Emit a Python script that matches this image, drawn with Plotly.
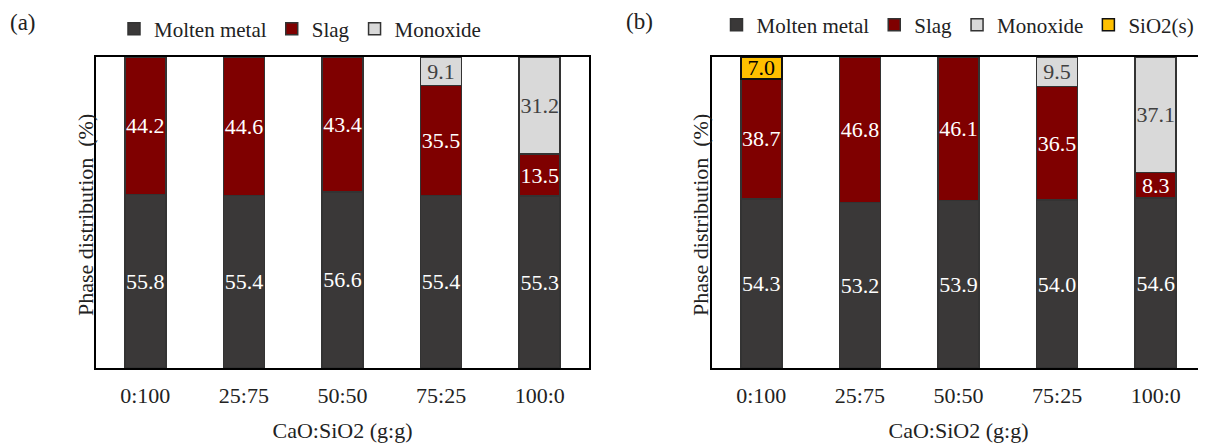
import plotly.graph_objects as go

categories = ["0:100", "25:75", "50:50", "75:25", "100:0"]

# Panel (a)
a_molten = [55.8, 55.4, 56.6, 55.4, 55.3]
a_slag = [44.2, 44.6, 43.4, 35.5, 13.5]
a_monoxide = [None, None, None, 9.1, 31.2]

# Panel (b)
b_molten = [54.3, 53.2, 53.9, 54.0, 54.6]
b_slag = [38.7, 46.8, 46.1, 36.5, 8.3]
b_monoxide = [None, None, None, 9.5, 37.1]
b_sio2 = [7.0, None, None, None, None]

series_names = ["Molten metal", "Slag", "Monoxide", "SiO2(s)"]
colors = ["#3a3838", "#7f0000", "#d9d9d9", "#ffc000"]
text_colors = ["white", "white", "#404040", "black"]

FONT = "Liberation Serif, Times New Roman, serif"

# The page body has an 8px margin: figure is sized/positioned to compensate.
W, H = 1198, 439
OFF = 8

def px(xp):
    return (xp - OFF) / W

def py(yp):
    return 1 - (yp - OFF) / H

def fmt(vals):
    return ["" if v is None else f"{v:.1f}" for v in vals]

fig = go.Figure()

panels = [
    ("x", "y", "legend", [a_molten, a_slag, a_monoxide]),
    ("x2", "y2", "legend2", [b_molten, b_slag, b_monoxide, b_sio2]),
]

for xa, ya, lg, data in panels:
    for i, vals in enumerate(data):
        tf = dict(family=FONT, size=22, color=text_colors[i])
        fig.add_trace(go.Bar(
            x=categories, y=vals, name=series_names[i],
            xaxis=xa, yaxis=ya, legend=lg,
            marker=dict(color=colors[i], line=dict(color="#333333" if i < 3 else "#111111", width=1.5)),
            text=fmt(vals), textposition="inside", insidetextanchor="middle",
            textangle=0, textfont=tf, insidetextfont=tf,
            hoverinfo="skip",
        ))

axis_common = dict(
    showline=True, linecolor="black", linewidth=2, mirror=True,
    showgrid=False, zeroline=False, automargin=False,
)

title_font = dict(family=FONT, size=22, color="#222222")
legend_common = dict(orientation="h", yanchor="middle", xanchor="center",
                     font=dict(family=FONT, size=21, color="#222222"),
                     bgcolor="rgba(0,0,0,0)", itemwidth=30, tracegroupgap=0,
                     traceorder="normal")

ydom = [py(368), py(57)]

def ann(text, xp, yp, size=23, angle=0, xanchor="left"):
    return dict(text=text, x=px(xp), y=py(yp), xref="paper", yref="paper",
                xanchor=xanchor, yanchor="middle", showarrow=False, textangle=angle,
                font=dict(family=FONT, size=size, color="#222222"))

fig.update_layout(
    width=W, height=H,
    margin=dict(l=0, r=0, t=0, b=0, autoexpand=False),
    barmode="stack", bargap=0.585,
    paper_bgcolor="white", plot_bgcolor="white",
    font=dict(family=FONT, size=21, color="#222222"),
    uniformtext=dict(minsize=22, mode="show"),
    xaxis=dict(domain=[px(96), px(589)], anchor="y", **axis_common,
               ticks="", ticklabelstandoff=7,
               tickfont=dict(family=FONT, size=22, color="#222222"),
               title=dict(text="CaO:SiO2 (g:g)", standoff=15, font=title_font)),
    yaxis=dict(domain=ydom, anchor="x", range=[0, 100], **axis_common,
               showticklabels=False, ticks=""),
    xaxis2=dict(domain=[px(712), px(1205)], anchor="y2", **axis_common,
                ticks="", ticklabelstandoff=7,
                tickfont=dict(family=FONT, size=22, color="#222222"),
                title=dict(text="CaO:SiO2 (g:g)", standoff=15, font=title_font)),
    yaxis2=dict(domain=ydom, anchor="x2", range=[0, 100], **axis_common,
                showticklabels=False, ticks=""),
    legend=dict(x=px(300), y=py(29), **legend_common),
    legend2=dict(x=px(958), y=py(25), **legend_common),
    annotations=[
        ann("(a)", 8, 23),
        ann("(b)", 624, 22),
        ann("Phase distribution  (%)", 85, 215, size=22, angle=-90, xanchor="center"),
        ann("Phase distribution  (%)", 700, 215, size=22, angle=-90, xanchor="center"),
    ],
)

fig.write_html("out.html")
